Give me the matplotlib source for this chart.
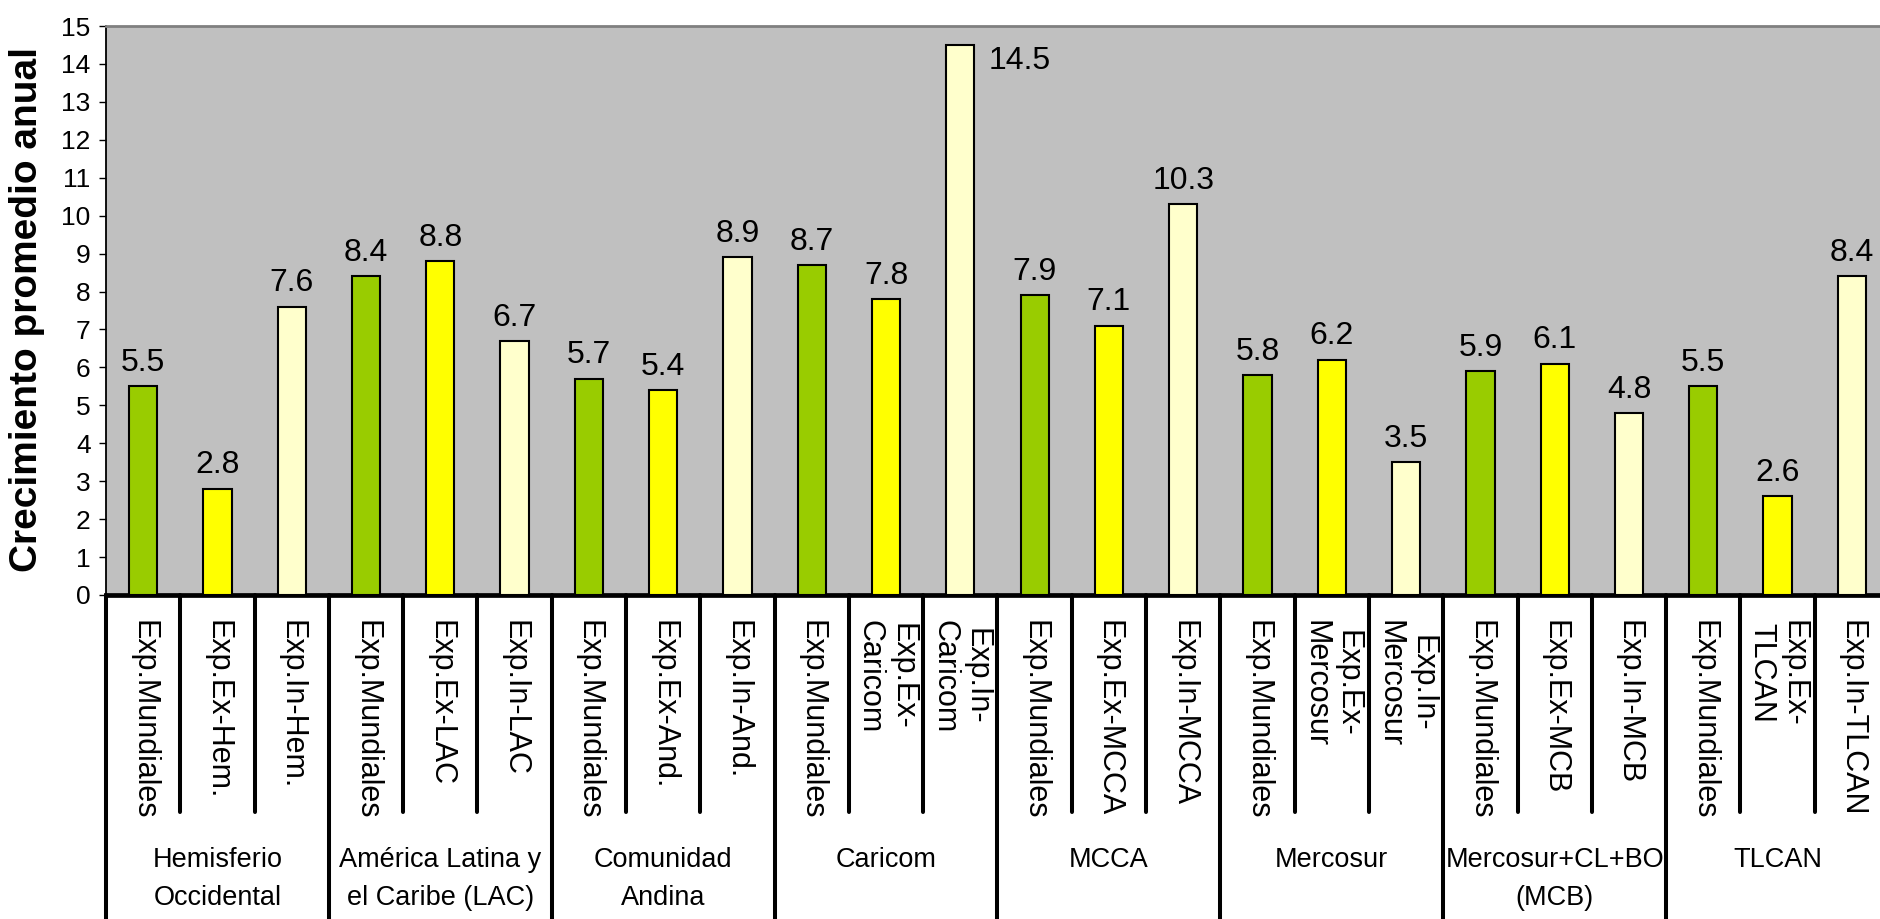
import numpy as np
import matplotlib
matplotlib.use('Agg')
import matplotlib.pyplot as plt

plt.rcParams['font.family'] = ['Liberation Sans', 'DejaVu Sans']

# --- data ---
groups = ['Hemisferio\nOccidental', 'América Latina y\nel Caribe (LAC)', 'Comunidad\nAndina',
          'Caricom', 'MCCA', 'Mercosur', 'Mercosur+CL+BO\n(MCB)', 'TLCAN']
categories = ['Exp.Mundiales', 'Exp.Ex-Hem.', 'Exp.In-Hem.',
              'Exp.Mundiales', 'Exp.Ex-LAC', 'Exp.In-LAC',
              'Exp.Mundiales', 'Exp.Ex-And.', 'Exp.In-And.',
              'Exp.Mundiales', 'Exp.Ex-\nCaricom', 'Exp.In-\nCaricom',
              'Exp.Mundiales', 'Exp.Ex-MCCA', 'Exp.In-MCCA',
              'Exp.Mundiales', 'Exp.Ex-\nMercosur', 'Exp.In-\nMercosur',
              'Exp.Mundiales', 'Exp.Ex-MCB', 'Exp.In-MCB',
              'Exp.Mundiales', 'Exp.Ex-\nTLCAN', 'Exp.In-TLCAN']
values = [5.5, 2.8, 7.6,
          8.4, 8.8, 6.7,
          5.7, 5.4, 8.9,
          8.7, 7.8, 14.5,
          7.9, 7.1, 10.3,
          5.8, 6.2, 3.5,
          5.9, 6.1, 4.8,
          5.5, 2.6, 8.4]
series_colors = ['#99CC00', '#FFFF00', '#FFFFCC']

fig = plt.figure(figsize=(18.81, 9.19), dpi=100)
ax = fig.add_axes([106 / 1881, 324 / 919, 1783 / 1881, 569 / 919])
ax.set_facecolor('#C0C0C0')

x = np.arange(len(values))
colors = [series_colors[i % 3] for i in range(len(values))]
ax.bar(x, values, width=0.38, color=colors, edgecolor='black', linewidth=1.5, zorder=3)

# value labels
for xi, v in zip(x, values):
    if v > 14:
        ax.annotate(f'{v:.1f}', (xi, v), xytext=(20, -1), textcoords='offset points',
                    ha='left', va='top', fontsize=23)
    else:
        ax.annotate(f'{v:.1f}', (xi, v), xytext=(0, 6), textcoords='offset points',
                    ha='center', va='bottom', fontsize=23)

ax.set_xlim(-0.5, len(values) - 0.5)
ax.set_ylim(0, 15)
ax.set_yticks(range(0, 16))
ax.tick_params(axis='y', direction='out', length=5, width=1, labelsize=19, pad=6)
ax.set_xticks([])

ax.spines['top'].set_color('#808080')
ax.spines['top'].set_linewidth(2)
ax.spines['right'].set_visible(False)
ax.spines['left'].set_linewidth(1.3)
ax.spines['bottom'].set_linewidth(3.4)

fig.text(27 / 1881, 1 - 310 / 919, 'Crecimiento promedio anual', rotation=90,
         ha='center', va='center', fontsize=28, fontweight='bold')

# category labels and separator lines below the axis
trans = ax.get_xaxis_transform()
for xi, lab in zip(x, categories):
    ax.text(xi, -0.044, lab, transform=trans, rotation=270, ha='center', va='top',
            multialignment='center', fontsize=22, linespacing=1.1)
for i in range(len(values) + 1):
    xb = i - 0.5
    y_end = -0.6 if i % 3 == 0 else -0.381
    ax.plot([xb, xb], [0, y_end], transform=trans, color='black', linewidth=2.9,
            solid_capstyle='round', clip_on=False, zorder=5)

# group labels
for g, name in enumerate(groups):
    xc = g * 3 + 1
    for k, line in enumerate(name.split('\n')):
        ax.text(xc, -0.478 - k * 0.067, line, transform=trans, ha='center',
                va='baseline', fontsize=19.5)

fig.savefig('out.png', dpi=100)
